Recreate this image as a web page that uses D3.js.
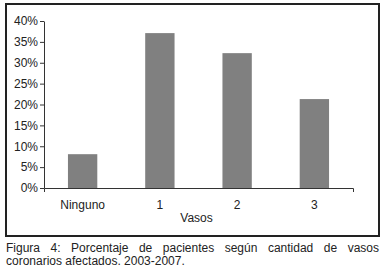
<!DOCTYPE html>
<html>
<head>
<meta charset="utf-8">
<script src="https://cdn.jsdelivr.net/npm/d3@7"></script>
<style>
  body { margin: 0; background: #fff; }
  text { font-family: "Liberation Sans", Arial, sans-serif; }
</style>
</head>
<body>
<svg id="chart"></svg>
<script>
// data
let categories = ["Ninguno", "1", "2", "3"];
let values = [0.081, 0.371, 0.323, 0.213];
let yTicks = [0, 0.05, 0.10, 0.15, 0.20, 0.25, 0.30, 0.35, 0.40];
let captionLine1 = ["Figura", "4:", "Porcentaje", "de", "pacientes", "según", "cantidad", "de", "vasos"];
let captionLine2 = "coronarios afectados. 2003-2007.";

let svg = d3.select("#chart")
    .attr("width", 384)
    .attr("height", 272);

// outer frame
svg.append("rect")
    .attr("x", 6)
    .attr("y", 4)
    .attr("width", 373)
    .attr("height", 232)
    .attr("fill", "none")
    .attr("stroke", "#222")
    .attr("stroke-width", 2);

let x = d3.scaleBand()
    .domain(categories)
    .range([44, 353])
    .paddingInner(0.62)
    .paddingOuter(0.31);

let y = d3.scaleLinear()
    .domain([0, 0.40])
    .range([188, 21]);

// bars
svg.selectAll(".bar")
    .data(values)
    .enter().append("rect")
    .attr("class", "bar")
    .attr("x", (d, i) => x(categories[i]))
    .attr("y", d => y(d))
    .attr("width", x.bandwidth())
    .attr("height", d => y(0) - y(d))
    .attr("fill", "#808080");

// y axis
let yAxis = svg.append("g")
    .attr("transform", "translate(44,0)")
    .call(d3.axisLeft(y).tickValues(yTicks).tickFormat(d3.format(".0%")).tickSize(4).tickSizeOuter(0));
yAxis.select(".domain").attr("stroke", "#333");
yAxis.selectAll(".tick line").attr("stroke", "#333");
yAxis.selectAll(".tick text")
    .attr("x", -6)
    .style("font-size", "12px")
    .attr("fill", "#222")
    .attr("font-family", "Liberation Sans, Arial, sans-serif");

// x axis: line with end ticks only
let xAxis = svg.append("g")
    .attr("transform", "translate(0,188)")
    .call(d3.axisBottom(x).tickSize(0).tickSizeOuter(4).tickPadding(12));
xAxis.select(".domain").attr("stroke", "#333");
xAxis.selectAll(".tick text")
    .style("font-size", "12px")
    .attr("fill", "#222")
    .attr("font-family", "Liberation Sans, Arial, sans-serif");

svg.append("text")
    .attr("x", (44 + 353) / 2 - 2)
    .attr("y", 222)
    .attr("text-anchor", "middle")
    .style("font-size", "12px")
    .attr("fill", "#222")
    .text("Vasos");

// caption, first line justified
let cap = svg.append("g").style("font-size", "12px").attr("fill", "#222");
let tmp = cap.append("text").attr("visibility", "hidden");
let widths = captionLine1.map(w => { tmp.text(w); return tmp.node().getComputedTextLength(); });
tmp.remove();
let left = 6, right = 379;
let gap = (right - left - d3.sum(widths)) / (captionLine1.length - 1);
let cx = left;
captionLine1.forEach((w, i) => {
    cap.append("text").attr("x", cx).attr("y", 252).text(w);
    cx += widths[i] + gap;
});
cap.append("text").attr("x", left).attr("y", 265).text(captionLine2);
</script>
</body>
</html>
